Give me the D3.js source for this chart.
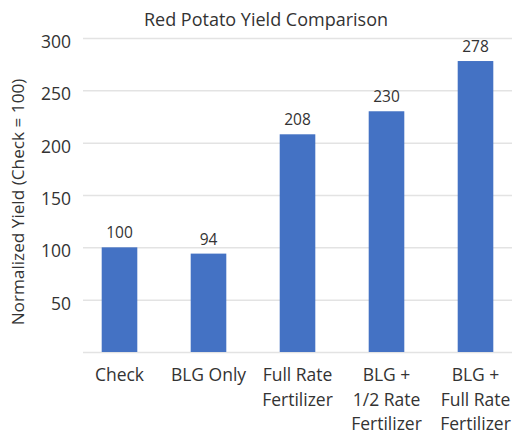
<!DOCTYPE html>
<html>
<head>
<meta charset="utf-8">
<script src="https://cdn.jsdelivr.net/npm/d3@7"></script>
<style>
  body { margin: 0; background: #fff; }
  text { font-family: "Open Sans", sans-serif; fill: #333333; }
</style>
</head>
<body>
<div id="chart"></div>
<script>
// data
var categories = ["Check", "BLG Only", "Full Rate Fertilizer", "BLG + 1/2 Rate Fertilizer", "BLG + Full Rate Fertilizer"];
var labelLines = [["Check"], ["BLG Only"], ["Full Rate", "Fertilizer"], ["BLG +", "1/2 Rate", "Fertilizer"], ["BLG +", "Full Rate", "Fertilizer"]];
var yields = [100, 94, 208, 230, 278];
var yTicks = [50, 100, 150, 200, 250, 300];

var width = 520, height = 434;
var gridLeft = 83, gridRight = 512;

var svg = d3.select("#chart")
  .append("svg")
    .attr("width", width)
    .attr("height", height);

// scales
var x = d3.scaleBand()
  .domain(categories)
  .range([75, 520])
  .paddingInner(0.6)
  .paddingOuter(0.3);

var y = d3.scaleLinear()
  .domain([0, 300])
  .range([352, 38]);

// gridlines
svg.append("g")
  .selectAll("line")
  .data([0].concat(yTicks))
  .enter()
  .append("line")
    .attr("x1", gridLeft)
    .attr("x2", gridRight)
    .attr("y1", function(d) { return y(d) + 0.5; })
    .attr("y2", function(d) { return y(d) + 0.5; })
    .attr("stroke", "#e3e3e3")
    .attr("stroke-width", 1.5);

// y axis tick labels
var yAxis = svg.append("g")
  .attr("transform", "translate(" + 79 + ",0)")
  .call(d3.axisLeft(y).tickValues(yTicks).tickSize(0).tickPadding(8));
yAxis.select(".domain").remove();
yAxis.selectAll("text")
  .attr("font-size", 17.5)
  .attr("dy", "0.55em")
  .style("font-family", "'Open Sans', sans-serif")
  .attr("fill", "#333333");

// bars
svg.append("g")
  .selectAll("rect")
  .data(yields)
  .enter()
  .append("rect")
    .attr("x", function(d, i) { return x(categories[i]); })
    .attr("y", function(d) { return y(d); })
    .attr("width", x.bandwidth())
    .attr("height", function(d) { return y(0) - y(d); })
    .attr("fill", "#4472c4");

// value labels
svg.append("g")
  .selectAll("text")
  .data(yields)
  .enter()
  .append("text")
    .attr("x", function(d, i) { return x(categories[i]) + x.bandwidth() / 2; })
    .attr("y", function(d) { return y(d) - 9; })
    .attr("text-anchor", "middle")
    .attr("font-size", 15.5)
    .text(function(d) { return d; });

// category labels
var cat = svg.append("g")
  .selectAll("text")
  .data(labelLines)
  .enter()
  .append("text")
    .attr("x", function(d, i) { return x(categories[i]) + x.bandwidth() / 2; })
    .attr("y", 381)
    .attr("text-anchor", "middle")
    .attr("font-size", 17.5);
cat.selectAll("tspan")
  .data(function(d) { return d; })
  .enter()
  .append("tspan")
    .attr("x", function() { return d3.select(this.parentNode).attr("x"); })
    .attr("dy", function(d, i) { return i === 0 ? 0 : 24.5; })
    .text(function(d) { return d; });

// title
svg.append("text")
  .attr("x", 266)
  .attr("y", 26)
  .attr("text-anchor", "middle")
  .attr("font-size", 18)
  .text("Red Potato Yield Comparison");

// y axis title
svg.append("text")
  .attr("transform", "translate(24,202) rotate(-90)")
  .attr("text-anchor", "middle")
  .attr("font-size", 17.2)
  .text("Normalized Yield (Check = 100)");
</script>
</body>
</html>
